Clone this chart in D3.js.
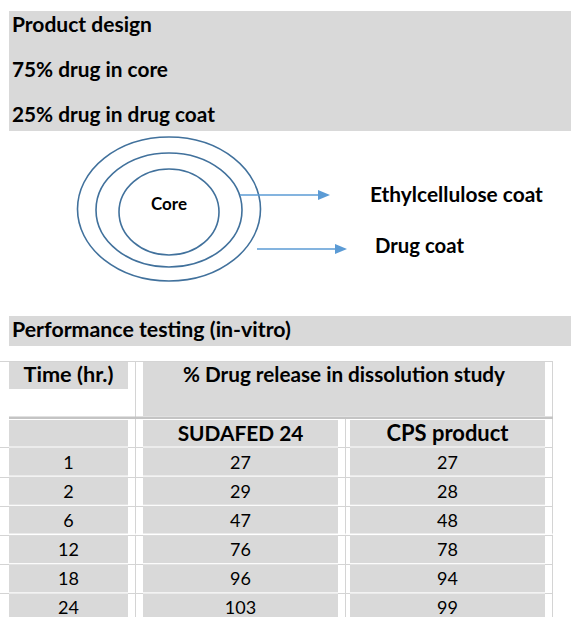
<!DOCTYPE html>
<html>
<head>
<meta charset="utf-8">
<script src="https://cdn.jsdelivr.net/npm/d3@7"></script>
<style>
  html, body { margin: 0; padding: 0; background: #fff; }
  svg { display: block; }
  text { font-family: Lato, "Open Sans", sans-serif; fill: #000; }
</style>
</head>
<body>
<div id="chart"></div>
<script>
// ---------------- data ----------------
const designNotes = ["Product design", "75% drug in core", "25% drug in drug coat"];
const layers = ["Core", "Ethylcellulose coat", "Drug coat"];
const sectionTitle = "Performance testing (in-vitro)";
const timeHeader = "Time (hr.)";
const releaseHeader = "% Drug release in dissolution study";
const products = ["SUDAFED 24", "CPS product"];
const times = [1, 2, 6, 12, 18, 24];
const sudafed = [27, 29, 47, 76, 96, 103];
const cps = [27, 28, 48, 78, 94, 99];

// ---------------- layout ----------------
const W = 571, H = 617;
const GRAY = "#d9d9d9", GRID = "#d4d4d4";
const svg = d3.select("#chart").append("svg").attr("width", W).attr("height", H);

// fit a text element's font size so its width matches the reference width
function fit(sel, target) {
  sel.each(function () {
    const base = parseFloat(this.getAttribute("font-size"));
    const w = this.getComputedTextLength();
    if (w > 0) this.setAttribute("font-size", (base * target / w).toFixed(2));
  });
  return sel;
}

// --- Product design box ---
svg.append("rect").attr("x", 9).attr("y", 11).attr("width", W - 9).attr("height", 120).attr("fill", GRAY);
const noteY = d3.scalePoint().domain(designNotes).range([32, 122]);
const noteW = [140, 156, 203];
designNotes.forEach((t, i) => {
  fit(svg.append("text").attr("x", 12).attr("y", noteY(t)).attr("font-size", 18)
    .attr("font-weight", "bold").text(t), noteW[i]);
});

// --- Core diagram ---
const cx = 169;
const rings = [ {rx: 50, ry: 43, cy: 212}, {rx: 73, ry: 57, cy: 210}, {rx: 91.5, ry: 72, cy: 209} ];
svg.selectAll("ellipse.ring").data(rings).join("ellipse").attr("class", "ring")
  .attr("cx", cx).attr("cy", d => d.cy).attr("rx", d => d.rx).attr("ry", d => d.ry)
  .attr("fill", "none").attr("stroke", "#41719c").attr("stroke-width", 1.6);

fit(svg.append("text").attr("x", cx).attr("y", 210).attr("text-anchor", "middle")
  .attr("font-size", 15).attr("font-weight", "bold").text(layers[0]), 36);

const arrows = [
  {label: layers[1], x1: 240, x2: 330, y: 195, tx: 370, ty: 202, tw: 173},
  {label: layers[2], x1: 257, x2: 347, y: 249, tx: 375, ty: 253, tw: 89}
];
const ARROW = "#5b9bd5";
arrows.forEach(a => {
  svg.append("line").attr("x1", a.x1).attr("x2", a.x2 - 10).attr("y1", a.y).attr("y2", a.y)
    .attr("stroke", ARROW).attr("stroke-width", 1.5);
  svg.append("path")
    .attr("d", d3.line()([[a.x2 - 12, a.y - 5], [a.x2, a.y], [a.x2 - 12, a.y + 5]]) + "Z")
    .attr("fill", ARROW);
  fit(svg.append("text").attr("x", a.tx).attr("y", a.ty).attr("font-size", 19)
    .attr("font-weight", "bold").text(a.label), a.tw);
});

// --- Performance testing bar ---
svg.append("rect").attr("x", 9).attr("y", 316).attr("width", W - 9).attr("height", 30).attr("fill", GRAY);
fit(svg.append("text").attr("x", 12).attr("y", 337).attr("font-size", 18)
  .attr("font-weight", "bold").text(sectionTitle), 279);

// --- Table ---
const cols = [ {x0: 9, x1: 128}, {x0: 143, x1: 338}, {x0: 350, x1: 545} ];
const colMid = c => (c.x0 + c.x1) / 2;
const gaps = [[0, 9], [128, 143], [338, 350], [545, 552]];

const rowY = d3.scaleBand().domain(times).range([447.5, 621.5]).paddingInner(0.04);

// gridlines
const g = svg.append("g").attr("stroke", GRID).attr("stroke-width", 1);
g.append("line").attr("x1", 135.5).attr("x2", 135.5).attr("y1", 362).attr("y2", H);
g.append("line").attr("x1", 345.5).attr("x2", 345.5).attr("y1", 419).attr("y2", H);
g.append("line").attr("x1", 552.5).attr("x2", 552.5).attr("y1", 362).attr("y2", H);
g.append("line").attr("x1", 0).attr("x2", 553).attr("y1", 361.5).attr("y2", 361.5);
const bounds = [447].concat(times.map(t => rowY(t) + rowY.step()));
bounds.forEach(b => gaps.forEach(([a, c]) => {
  g.append("line").attr("x1", a).attr("x2", c).attr("y1", Math.round(b) + 0.5).attr("y2", Math.round(b) + 0.5);
}));

// header cells
svg.append("rect").attr("x", cols[0].x0).attr("y", 362).attr("width", cols[0].x1 - cols[0].x0).attr("height", 27).attr("fill", GRAY);
svg.append("rect").attr("x", cols[1].x0).attr("y", 362).attr("width", cols[2].x1 - cols[1].x0).attr("height", 54).attr("fill", GRAY);
fit(svg.append("text").attr("x", colMid(cols[0])).attr("y", 382).attr("text-anchor", "middle")
  .attr("font-size", 18).attr("font-weight", "bold").text(timeHeader), 90);
fit(svg.append("text").attr("x", (cols[1].x0 + cols[2].x1) / 2).attr("y", 382).attr("text-anchor", "middle")
  .attr("font-size", 18).attr("font-weight", "bold").text(releaseHeader), 322);

// separator under header
svg.append("rect").attr("x", 9).attr("y", 416.5).attr("width", 544).attr("height", 2.5).attr("fill", "#c4c4c4");

// sub-header row
cols.forEach(c => svg.append("rect").attr("x", c.x0).attr("y", 420).attr("width", c.x1 - c.x0).attr("height", 26.5).attr("fill", GRAY));
const prodTexts = products.map((p, i) =>
  svg.append("text").attr("x", colMid(cols[i + 1])).attr("y", 441).attr("text-anchor", "middle")
    .attr("font-size", 18).attr("font-weight", "bold").text(p));
fit(prodTexts[1], 122);
const prodSize = +prodTexts[1].attr("font-size");
prodTexts[0].attr("font-size", (prodSize * 0.95).toFixed(2));

// data rows
const rows = times.map((t, i) => ({t, vals: [t, sudafed[i], cps[i]]}));
const rowG = svg.selectAll("g.row").data(rows).join("g").attr("class", "row");
rowG.each(function (r) {
  const sel = d3.select(this);
  cols.forEach((c, j) => {
    sel.append("rect").attr("x", c.x0).attr("y", rowY(r.t)).attr("width", c.x1 - c.x0)
      .attr("height", rowY.bandwidth()).attr("fill", GRAY);
    sel.append("text").attr("x", colMid(c)).attr("y", rowY(r.t) + rowY.bandwidth() / 2 + 7)
      .attr("text-anchor", "middle").attr("font-size", 18).text(r.vals[j]);
  });
});
// slightly thicker white separator between 6 and 12 hr rows
svg.append("rect").attr("x", 0).attr("y", rowY(12) - 1.5).attr("width", 553).attr("height", 1.2).attr("fill", "#fff");
</script>
</body>
</html>
